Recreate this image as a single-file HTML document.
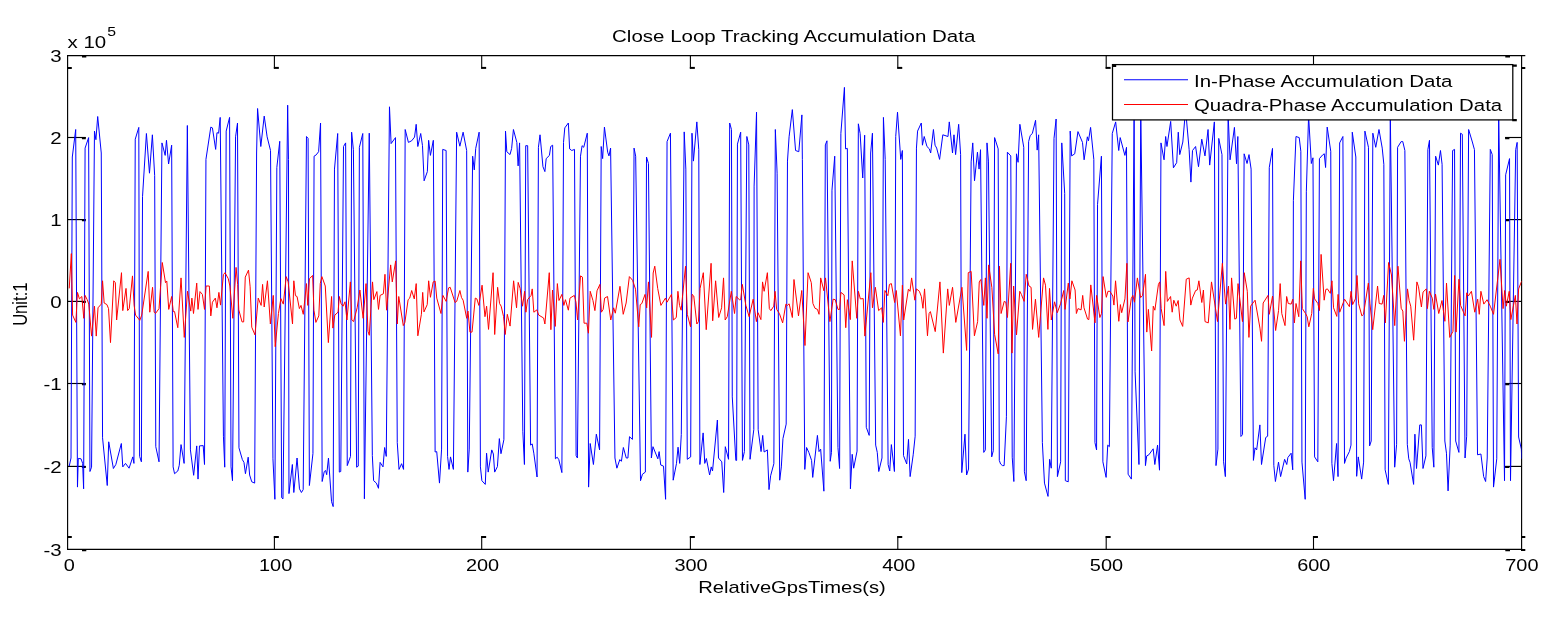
<!DOCTYPE html>
<html><head><meta charset="utf-8"><title>Close Loop Tracking Accumulation Data</title>
<style>
html,body{margin:0;padding:0;background:#fff;}
body{width:1564px;height:618px;overflow:hidden;}
svg{display:block}
text{font-family:"Liberation Sans",Arial,sans-serif;fill:#000;}
</style></head><body>
<svg width="1564" height="618" viewBox="0 0 1564 618">
<rect width="1564" height="618" fill="#fff"/>
<defs><clipPath id="c"><rect x="67.6" y="55.6" width="1454.0" height="493.79999999999995"/></clipPath></defs>

<g stroke="#000" stroke-width="1.3" fill="none">
<path d="M67.0,55.6 H1525.3"/>
<path d="M67.0,549.4 H1522.1999999999998"/>
<path d="M67.6,55.6 V549.4" stroke-width="1.15"/>
<path d="M1521.6,55.6 V549.4" stroke-width="1.15"/>
<path d="M274.40,55.6 V68.6" stroke-width="1.1"/>
<path d="M274.40,549.4 V536.2" stroke-width="1.1"/>
<path d="M481.70,55.6 V68.6" stroke-width="1.1"/>
<path d="M481.70,549.4 V536.2" stroke-width="1.1"/>
<path d="M690.40,55.6 V68.6" stroke-width="1.1"/>
<path d="M690.40,549.4 V536.2" stroke-width="1.1"/>
<path d="M897.80,55.6 V68.6" stroke-width="1.1"/>
<path d="M897.80,549.4 V536.2" stroke-width="1.1"/>
<path d="M1106.20,55.6 V68.6" stroke-width="1.1"/>
<path d="M1106.20,549.4 V536.2" stroke-width="1.1"/>
<path d="M1313.50,55.6 V68.6" stroke-width="1.1"/>
<path d="M1313.50,549.4 V536.2" stroke-width="1.1"/>
<path d="M67.6,137.50 h18" stroke-width="1.15"/>
<path d="M1521.6,137.50 h-16.5" stroke-width="1.15"/>
<path d="M67.6,219.60 h18" stroke-width="1.15"/>
<path d="M1521.6,219.60 h-16.5" stroke-width="1.15"/>
<path d="M67.6,301.40 h18" stroke-width="1.15"/>
<path d="M1521.6,301.40 h-16.5" stroke-width="1.15"/>
<path d="M67.6,383.50 h18" stroke-width="1.15"/>
<path d="M1521.6,383.50 h-16.5" stroke-width="1.15"/>
<path d="M67.6,466.40 h18" stroke-width="1.15"/>
<path d="M1521.6,466.40 h-16.5" stroke-width="1.15"/>
</g>
<g stroke="#000" stroke-width="2" fill="none">
<path d="M273.85,67.9 h5.0"/>
<path d="M273.85,537.0 h5.0"/>
<path d="M481.15,67.9 h5.0"/>
<path d="M481.15,537.0 h5.0"/>
<path d="M689.85,67.9 h5.0"/>
<path d="M689.85,537.0 h5.0"/>
<path d="M897.25,67.9 h5.0"/>
<path d="M897.25,537.0 h5.0"/>
<path d="M1105.65,67.9 h5.0"/>
<path d="M1105.65,537.0 h5.0"/>
<path d="M1312.95,67.9 h5.0"/>
<path d="M1312.95,537.0 h5.0"/>
<path d="M67.0,67.9 h4.8 M67.0,537.0 h4.8 M82,56.5 h4.3 M82,550.2 h4.3 M1505.3,56.5 h4.7 M1505.3,550.2 h4.7 M1521.6,67.9 h3.7 M1521.6,537.1 h3.7 M1521.0,550.0 h4.3"/>
<path d="M81.89999999999999,138.10 h3.9 M1505.1,138.10 h4.3" stroke-width="2.2"/>
<path d="M81.89999999999999,220.20 h3.9 M1505.1,220.20 h4.3" stroke-width="2.2"/>
<path d="M81.89999999999999,302.00 h3.9 M1505.1,302.00 h4.3" stroke-width="2.2"/>
<path d="M81.89999999999999,384.10 h3.9 M1505.1,384.10 h4.3" stroke-width="2.2"/>
<path d="M81.89999999999999,467.00 h3.9 M1505.1,467.00 h4.3" stroke-width="2.2"/>
</g>
<g clip-path="url(#c)"><g transform="scale(1.0,1)" fill="none" stroke-width="1" stroke-linejoin="miter" stroke-miterlimit="6">
<path d="M69.22,466.1 L71.00,458.0 L72.30,157.0 L75.70,129.5 L77.48,487.1 L78.28,458.4 L81.04,458.8 L82.65,463.4 L83.62,488.8 L85.08,148.1 L88.64,137.6 L89.94,471.5 L91.55,467.2 L94.47,131.1 L95.92,139.7 L97.70,116.5 L101.26,153.0 L102.56,437.8 L107.25,485.5 L108.71,441.8 L113.40,468.5 L115.83,464.5 L121.33,443.5 L122.78,466.9 L125.53,463.4 L129.09,468.2 L132.82,456.9 L133.95,463.4 L135.24,139.2 L138.80,127.4 L139.61,456.4 L141.39,461.8 L142.52,196.7 L146.41,133.5 L149.48,173.2 L152.39,134.8 L154.66,175.6 L155.79,446.7 L159.03,461.8 L161.94,142.9 L165.18,155.4 L166.47,140.3 L168.58,164.0 L171.65,145.2 L173.11,466.9 L174.56,473.7 L177.80,471.0 L179.26,465.3 L181.04,444.6 L184.11,463.4 L187.35,125.5 L190.42,449.9 L193.66,475.3 L196.73,445.9 L198.03,479.1 L199.48,445.9 L203.20,445.6 L204.50,464.5 L205.95,159.4 L210.81,127.1 L212.43,127.9 L215.66,149.4 L216.96,132.7 L218.58,133.2 L220.19,117.4 L223.43,436.2 L224.72,467.2 L226.18,131.1 L229.58,117.4 L231.04,466.9 L232.49,480.7 L235.57,136.8 L237.51,123.0 L238.96,447.8 L242.36,459.6 L243.98,462.4 L245.44,473.7 L248.19,457.2 L249.64,475.0 L251.75,481.8 L254.66,483.1 L256.60,153.0 L257.57,108.5 L260.81,146.5 L264.21,116.1 L267.12,136.8 L270.52,150.5 L272.94,458.8 L274.89,499.3 L276.83,167.5 L279.74,141.3 L281.68,497.7 L282.98,498.8 L287.67,105.2 L288.48,159.4 L288.96,493.6 L292.36,464.5 L293.82,492.5 L297.06,458.0 L299.48,488.8 L301.42,492.5 L303.20,489.6 L306.47,136.5 L308.09,138.4 L309.39,485.5 L312.94,453.5 L314.08,156.2 L316.18,154.9 L318.61,151.7 L320.55,123.0 L322.17,481.5 L324.27,471.5 L325.57,470.5 L326.70,474.7 L328.48,458.0 L331.55,501.7 L333.17,506.6 L334.47,169.1 L337.70,133.5 L339.32,472.1 L340.78,471.5 L343.53,146.5 L345.63,142.9 L347.25,465.6 L350.49,456.4 L351.62,132.2 L353.40,149.7 L356.63,467.2 L358.25,466.1 L359.39,147.3 L362.78,133.5 L364.40,498.8 L369.26,133.2 L372.33,455.6 L373.62,480.7 L376.38,483.1 L378.48,488.3 L380.10,462.4 L383.01,466.9 L384.63,447.5 L386.25,456.4 L389.48,106.8 L391.10,143.6 L395.47,137.6 L397.25,442.6 L399.03,469.4 L401.62,463.7 L403.56,469.4 L405.18,129.5 L408.41,142.4 L411.65,140.8 L414.56,137.1 L416.18,124.3 L417.80,146.5 L420.71,133.5 L422.49,145.7 L424.11,180.8 L427.35,171.6 L428.64,140.3 L430.42,155.4 L433.33,140.3 L435.11,452.0 L436.73,451.6 L439.48,483.1 L441.59,449.1 L442.72,149.4 L446.12,150.5 L447.57,456.4 L449.03,469.4 L450.49,456.9 L453.40,469.4 L456.63,132.2 L459.87,146.2 L463.11,132.2 L466.67,150.5 L467.80,472.1 L469.26,449.1 L472.65,156.2 L474.27,169.9 L475.73,148.4 L479.13,132.2 L480.42,466.9 L481.88,480.7 L485.28,484.4 L486.57,453.2 L488.19,472.1 L491.75,449.9 L493.37,454.0 L494.66,472.1 L497.41,466.6 L499.35,438.6 L500.97,453.7 L503.88,439.7 L505.50,131.1 L506.80,151.7 L510.03,154.6 L511.65,148.4 L513.43,129.5 L516.83,142.4 L518.12,165.9 L519.58,142.9 L522.82,431.3 L524.43,464.5 L525.73,145.7 L527.67,145.7 L530.58,445.1 L532.20,443.9 L533.82,453.2 L537.06,477.0 L538.41,147.3 L540.03,134.8 L542.94,166.7 L544.89,171.6 L546.18,158.6 L549.42,155.4 L550.71,146.5 L552.65,145.2 L555.40,458.8 L557.18,457.2 L558.80,459.6 L561.88,472.6 L563.50,142.4 L564.79,127.9 L568.35,123.0 L569.64,148.9 L571.75,150.5 L574.50,149.4 L576.12,455.6 L577.41,458.0 L580.49,156.2 L582.10,145.7 L583.72,147.3 L587.28,133.2 L588.58,487.1 L590.19,443.5 L593.43,464.5 L596.34,434.2 L599.58,449.9 L601.20,146.5 L602.65,158.6 L604.43,127.1 L607.67,152.2 L608.96,155.9 L610.58,148.1 L614.95,458.0 L616.89,468.2 L619.81,459.6 L621.42,461.3 L623.37,447.5 L626.28,458.0 L627.90,458.0 L629.51,436.7 L632.43,439.4 L634.05,148.1 L635.66,156.2 L640.52,480.7 L642.46,474.2 L645.37,472.1 L646.50,157.0 L648.45,163.5 L651.36,458.0 L652.98,446.7 L657.83,458.8 L659.13,451.6 L660.74,465.0 L663.50,466.1 L665.60,499.3 L667.06,141.6 L670.45,133.2 L673.20,480.2 L676.44,463.7 L678.06,447.2 L679.68,463.4 L681.29,434.6 L684.21,131.9 L685.83,169.1 L687.28,459.3 L690.68,456.9 L691.97,133.2 L693.43,161.1 L696.83,121.9 L698.77,149.7 L699.90,464.5 L703.14,432.9 L704.76,463.4 L706.38,458.5 L709.61,475.0 L711.23,466.9 L712.52,471.0 L717.38,420.0 L718.51,458.0 L721.75,461.8 L723.69,492.5 L725.31,446.7 L728.54,459.3 L729.68,123.0 L731.46,129.5 L732.27,396.9 L735.83,460.4 L736.63,460.4 L737.44,144.1 L740.68,132.2 L742.46,460.4 L744.40,451.6 L746.83,136.5 L748.77,144.9 L750.06,459.3 L753.79,429.7 L754.11,186.1 L756.54,112.2 L758.16,429.7 L761.07,451.6 L762.69,435.4 L764.14,452.0 L767.38,449.9 L769.00,489.6 L770.61,475.8 L773.85,463.7 L775.34,129.5 L777.12,173.2 L779.71,480.2 L781.33,466.9 L782.94,438.6 L786.18,424.1 L787.48,161.1 L789.09,136.8 L792.33,109.6 L795.57,150.5 L798.80,151.7 L801.88,114.9 L802.36,159.4 L804.79,469.4 L806.57,447.5 L808.83,452.4 L811.59,460.4 L812.72,477.4 L817.41,435.4 L819.03,451.6 L820.65,449.1 L823.88,491.2 L825.34,144.9 L826.96,140.8 L830.19,461.3 L831.49,452.4 L831.97,190.2 L834.72,156.2 L837.96,447.5 L839.58,468.5 L840.87,133.5 L844.43,87.4 L845.57,148.9 L847.35,148.4 L850.42,488.8 L852.20,454.3 L853.66,468.2 L857.06,451.1 L858.35,123.8 L860.13,133.5 L862.72,178.0 L864.66,135.2 L866.28,427.3 L869.19,435.4 L870.65,153.0 L872.43,133.2 L875.66,445.1 L877.28,452.4 L878.74,471.5 L881.97,458.0 L883.43,117.4 L885.21,159.4 L888.12,464.5 L889.74,471.0 L891.36,444.6 L894.43,471.5 L895.73,136.5 L897.51,112.2 L900.74,159.4 L902.36,150.5 L903.50,455.6 L906.73,464.0 L908.51,439.4 L910.13,476.6 L913.20,454.8 L915.15,436.2 L916.44,148.1 L917.57,131.1 L921.29,123.0 L922.43,145.2 L924.21,136.5 L926.96,146.5 L929.39,148.9 L930.68,153.0 L933.43,129.5 L935.05,145.2 L936.67,148.1 L939.58,159.4 L942.82,134.8 L947.99,136.5 L949.29,121.9 L952.52,153.0 L953.98,134.8 L955.60,154.6 L958.67,124.3 L960.61,154.6 L961.75,472.6 L964.98,434.2 L966.60,475.0 L968.54,469.0 L971.13,161.9 L972.75,142.9 L974.53,180.8 L977.44,152.2 L979.06,169.1 L980.52,149.7 L983.75,452.4 L985.37,449.9 L986.99,142.9 L988.45,161.1 L991.68,456.9 L993.30,450.7 L994.60,137.6 L998.16,148.9 L999.29,460.4 L1000.58,464.0 L1002.52,465.6 L1004.14,465.6 L1006.41,416.8 L1007.38,152.2 L1010.78,155.9 L1012.23,457.2 L1013.85,481.5 L1016.47,153.8 L1018.09,162.3 L1019.87,124.3 L1023.75,147.3 L1024.40,471.8 L1026.18,480.7 L1028.61,141.6 L1030.23,135.5 L1032.33,133.5 L1035.57,120.3 L1037.18,150.1 L1038.64,134.8 L1042.36,442.6 L1044.47,483.1 L1048.03,496.4 L1049.64,459.3 L1051.26,468.2 L1054.01,138.4 L1056.12,119.0 L1057.41,476.6 L1060.65,461.8 L1061.78,142.9 L1064.69,193.4 L1065.34,480.7 L1068.25,481.8 L1070.19,131.1 L1071.65,155.9 L1074.72,153.8 L1077.96,131.6 L1082.49,142.4 L1084.11,159.8 L1087.35,136.8 L1088.48,140.8 L1090.58,127.4 L1093.82,159.4 L1094.95,442.6 L1096.57,449.9 L1097.54,204.3 L1101.42,156.2 L1102.88,461.8 L1106.12,477.4 L1107.73,445.1 L1109.35,446.7 L1112.27,133.5 L1115.66,121.9 L1118.74,150.5 L1120.19,137.6 L1124.89,155.4 L1126.50,147.3 L1128.12,474.2 L1131.36,479.1 L1134.11,109.3 L1135.08,371.8 L1138.96,464.5 L1140.74,109.3 L1145.44,465.6 L1146.73,455.9 L1148.83,454.8 L1153.20,448.8 L1154.82,464.5 L1157.57,445.1 L1159.51,470.2 L1160.97,142.9 L1164.05,159.8 L1165.66,136.5 L1166.96,146.5 L1170.68,121.4 L1173.43,167.8 L1176.67,162.7 L1178.28,132.2 L1179.74,154.6 L1182.82,142.0 L1185.57,109.3 L1189.13,149.7 L1190.91,182.1 L1192.52,150.5 L1195.60,146.5 L1198.51,166.7 L1201.75,139.2 L1204.98,155.9 L1208.06,129.5 L1209.68,165.1 L1214.37,121.9 L1215.99,465.6 L1217.93,449.1 L1218.74,138.4 L1221.97,154.6 L1223.59,461.8 L1225.37,476.6 L1228.12,114.1 L1230.06,159.8 L1234.43,127.4 L1236.54,163.8 L1237.83,136.5 L1240.91,436.5 L1242.52,434.6 L1244.14,153.8 L1247.06,163.5 L1249.00,154.6 L1251.10,169.1 L1253.41,460.4 L1255.03,447.8 L1256.65,449.9 L1259.89,424.9 L1261.50,464.5 L1265.71,437.5 L1267.65,436.2 L1269.27,167.5 L1272.51,148.4 L1273.80,465.3 L1275.42,481.5 L1278.50,462.1 L1280.60,476.6 L1284.64,459.3 L1286.75,464.5 L1287.88,457.5 L1291.12,453.2 L1292.73,469.8 L1293.38,200.7 L1295.97,136.5 L1299.21,137.6 L1300.83,151.3 L1301.96,462.1 L1305.19,499.3 L1306.33,191.8 L1308.59,115.7 L1311.34,163.5 L1312.96,157.8 L1314.58,456.9 L1317.82,461.8 L1319.43,158.6 L1322.67,154.9 L1324.29,153.8 L1325.58,167.5 L1327.20,127.1 L1330.76,151.3 L1331.89,463.4 L1333.51,480.7 L1336.59,443.5 L1338.04,476.6 L1339.66,142.9 L1342.90,136.5 L1344.51,463.4 L1346.13,458.0 L1349.37,451.6 L1350.99,445.1 L1352.28,132.2 L1355.84,157.0 L1356.65,476.3 L1358.27,456.9 L1361.67,479.1 L1363.61,462.1 L1364.90,131.1 L1368.46,147.3 L1369.60,445.9 L1371.21,441.0 L1372.83,133.2 L1375.74,147.3 L1378.98,129.5 L1382.22,148.1 L1383.83,164.3 L1385.13,469.8 L1388.37,484.4 L1390.31,114.1 L1394.68,467.2 L1396.62,444.3 L1397.59,147.3 L1401.15,141.6 L1402.77,141.6 L1404.87,150.5 L1407.30,444.3 L1408.75,458.8 L1410.05,462.4 L1413.61,484.4 L1414.90,434.2 L1416.52,468.5 L1419.76,424.9 L1421.38,424.9 L1422.99,468.5 L1425.91,455.9 L1427.85,149.7 L1429.47,140.3 L1432.22,447.5 L1433.83,467.2 L1435.61,156.2 L1438.37,165.1 L1440.47,150.5 L1442.09,164.3 L1444.84,441.0 L1446.46,453.2 L1448.07,490.9 L1450.18,445.1 L1452.61,150.5 L1454.55,149.4 L1455.68,441.0 L1458.92,452.4 L1460.53,133.2 L1462.31,134.3 L1465.06,458.0 L1466.68,436.2 L1468.62,129.5 L1472.35,142.0 L1474.45,149.7 L1477.52,454.8 L1480.92,454.0 L1483.67,476.6 L1485.61,481.5 L1487.23,458.0 L1490.29,149.4 L1492.23,154.6 L1493.52,487.1 L1496.76,458.8 L1498.70,115.7 L1504.53,480.7 L1505.66,174.8 L1509.54,158.6 L1510.51,480.7 L1515.69,149.7 L1517.15,142.4 L1518.61,437.0 L1521.36,449.1 L1521.68,458.8" stroke="#0000ff"/>
<path d="M69.22,288.4 L71.33,253.6 L72.62,315.1 L75.86,322.4 L77.48,292.4 L79.42,298.9 L81.84,296.5 L83.79,318.3 L85.08,295.4 L87.18,299.7 L88.80,304.1 L91.55,336.1 L94.47,306.2 L96.25,336.1 L98.03,307.8 L101.26,304.1 L102.56,280.8 L104.17,303.0 L106.93,304.6 L108.54,308.6 L110.49,342.6 L113.72,280.8 L115.34,282.7 L116.63,320.0 L121.49,272.7 L122.78,310.6 L126.02,288.4 L127.64,310.6 L129.26,308.6 L132.49,275.9 L134.11,305.4 L135.57,315.1 L139.77,320.3 L141.72,315.1 L148.19,271.4 L149.81,312.2 L152.56,287.3 L154.17,312.2 L155.47,313.5 L159.03,308.6 L162.27,262.5 L165.50,282.7 L166.80,281.1 L168.74,309.4 L171.65,296.5 L173.27,311.6 L174.56,311.6 L177.80,327.7 L181.04,277.9 L184.27,337.4 L187.51,291.2 L190.74,311.1 L191.88,298.1 L193.50,313.5 L196.73,283.1 L198.03,309.4 L199.97,291.6 L202.39,294.4 L204.50,309.4 L206.12,286.0 L209.35,286.0 L210.81,315.9 L212.43,302.2 L215.34,298.1 L216.96,307.8 L218.90,292.4 L220.52,305.1 L223.43,274.6 L225.05,272.7 L228.28,278.7 L229.90,286.0 L232.82,318.3 L236.05,267.4 L237.67,284.4 L238.80,309.9 L242.04,321.9 L243.66,321.9 L245.28,277.1 L248.51,270.1 L250.13,286.8 L251.75,327.2 L254.98,334.9 L258.22,298.1 L261.13,305.4 L262.59,284.4 L264.21,307.0 L267.44,280.8 L270.36,324.0 L273.27,295.4 L275.21,346.7 L278.45,313.5 L280.87,298.6 L283.30,304.1 L286.21,276.6 L288.16,281.9 L292.52,324.0 L293.82,280.8 L295.44,295.7 L297.06,296.5 L299.39,308.6 L301.00,305.4 L303.27,314.3 L306.50,283.6 L307.80,305.4 L309.42,278.7 L312.65,275.5 L313.95,310.2 L315.89,322.4 L318.80,315.9 L320.26,283.6 L321.88,276.6 L325.28,286.0 L328.35,342.6 L331.59,296.5 L332.88,328.1 L334.82,315.1 L338.06,312.2 L339.35,296.5 L340.97,303.5 L343.07,306.2 L345.02,301.8 L346.96,320.0 L350.36,281.9 L351.81,320.0 L353.59,321.6 L357.15,307.8 L359.90,290.0 L363.14,318.3 L366.05,283.6 L367.99,331.3 L369.29,335.3 L372.52,281.9 L373.82,299.7 L376.89,291.6 L378.51,309.4 L380.13,295.4 L383.37,293.8 L384.98,274.3 L386.60,310.2 L390.65,264.9 L392.27,281.9 L395.66,260.9 L397.28,324.0 L398.74,296.5 L403.27,325.6 L404.89,322.4 L408.12,299.7 L409.74,298.1 L411.68,290.5 L414.27,298.9 L416.21,283.6 L417.83,335.8 L421.39,314.3 L422.69,292.4 L423.98,311.9 L427.22,304.6 L428.67,280.8 L430.45,297.3 L433.20,281.9 L435.15,281.1 L436.76,298.1 L440.97,313.5 L442.91,295.4 L446.15,301.4 L448.58,287.9 L450.19,287.3 L455.05,302.5 L456.67,301.4 L459.90,290.5 L461.52,297.6 L463.14,300.2 L466.70,318.3 L467.99,311.1 L469.94,332.1 L472.04,332.1 L475.28,298.1 L476.89,298.9 L478.83,305.4 L482.07,285.2 L484.98,316.7 L486.60,306.2 L488.54,329.4 L493.07,272.7 L494.69,334.5 L497.61,287.3 L499.55,303.5 L501.17,306.2 L503.59,316.7 L505.21,334.5 L507.31,314.3 L510.06,326.1 L513.62,280.8 L516.54,307.8 L518.16,282.4 L520.10,288.4 L522.52,306.2 L524.63,291.3 L525.92,312.2 L527.54,299.7 L531.10,295.4 L532.23,288.9 L533.85,312.2 L536.81,309.9 L538.75,315.1 L543.61,318.0 L544.90,324.0 L549.27,272.7 L550.89,329.7 L552.51,290.0 L555.26,326.4 L557.36,283.6 L558.98,300.5 L561.89,294.4 L563.83,305.4 L565.45,299.7 L568.37,310.2 L569.98,298.1 L574.35,295.4 L575.97,302.2 L577.59,320.0 L580.50,275.9 L582.44,277.1 L584.06,323.2 L586.81,323.2 L588.43,333.2 L590.21,291.3 L592.96,300.5 L594.90,310.6 L597.01,290.8 L599.92,284.4 L601.38,312.2 L603.16,309.4 L604.61,298.1 L607.52,296.5 L610.76,320.0 L613.67,307.8 L615.29,313.2 L619.98,286.3 L623.22,314.3 L626.13,303.0 L629.37,276.6 L632.61,280.3 L635.52,289.2 L638.75,326.8 L640.21,304.6 L641.83,303.5 L645.06,294.4 L646.68,307.8 L648.46,281.9 L651.54,337.4 L653.16,273.0 L654.77,266.2 L657.69,288.4 L660.92,305.4 L665.45,298.1 L667.07,302.2 L671.44,294.4 L673.38,320.0 L676.29,317.5 L677.91,291.3 L679.53,305.4 L681.15,310.2 L685.52,266.2 L687.30,314.3 L690.53,326.8 L692.15,294.4 L693.77,296.0 L696.84,324.0 L698.46,321.6 L700.08,288.4 L703.32,272.7 L706.23,329.7 L711.08,263.3 L712.70,320.8 L715.61,280.8 L718.69,317.5 L721.60,307.8 L723.54,277.9 L725.16,320.0 L727.27,316.7 L731.31,291.3 L734.55,313.5 L736.17,296.5 L739.40,299.7 L740.70,299.7 L742.31,284.4 L745.87,305.4 L749.11,316.7 L753.16,299.2 L756.39,321.6 L758.01,312.7 L760.92,319.6 L762.54,281.9 L764.16,291.3 L767.39,272.7 L769.34,308.6 L770.84,310.6 L773.75,306.2 L775.05,291.3 L776.67,309.4 L779.42,313.5 L782.65,322.9 L785.89,304.1 L787.51,305.4 L789.13,303.8 L792.36,317.5 L793.98,279.5 L798.51,315.9 L801.75,290.5 L804.98,345.5 L808.06,272.7 L811.29,282.7 L812.91,303.5 L815.02,308.3 L817.44,309.4 L819.06,314.3 L820.68,277.9 L823.92,290.8 L825.53,277.9 L829.90,321.6 L833.14,299.2 L835.24,299.7 L837.99,309.4 L839.61,309.4 L840.91,292.4 L844.14,294.9 L845.76,327.7 L847.38,299.7 L850.29,319.6 L852.23,260.9 L856.76,318.3 L858.38,291.3 L860.32,298.9 L863.24,298.6 L864.85,336.1 L870.84,272.7 L872.46,307.8 L875.37,287.3 L878.61,310.6 L881.68,307.8 L883.30,322.4 L884.92,290.5 L887.83,295.7 L889.45,284.4 L891.39,283.6 L894.63,302.5 L896.25,290.5 L900.45,335.8 L902.39,285.2 L903.69,320.0 L908.38,289.2 L910.00,291.3 L911.62,277.9 L914.85,300.2 L916.47,288.9 L919.39,291.3 L921.33,296.5 L922.94,308.3 L924.56,288.9 L927.48,335.8 L929.09,313.5 L930.39,311.6 L935.24,331.6 L939.94,281.9 L943.33,353.1 L947.70,288.9 L949.32,305.4 L952.56,287.3 L955.79,322.4 L961.94,287.3 L966.63,350.4 L968.25,272.7 L971.17,271.4 L974.40,335.8 L977.64,321.6 L979.26,281.9 L980.87,279.5 L983.79,305.4 L985.40,277.9 L987.02,318.3 L988.64,264.9 L991.88,287.6 L994.63,334.5 L998.19,353.9 L999.48,266.2 L1001.10,313.5 L1004.22,301.4 L1005.84,302.2 L1007.46,317.5 L1010.70,263.3 L1011.99,353.1 L1013.61,286.0 L1016.52,334.9 L1019.76,291.3 L1021.38,294.4 L1024.13,301.4 L1026.23,274.3 L1028.98,286.0 L1031.08,287.3 L1032.54,329.4 L1035.45,299.2 L1038.69,337.4 L1043.54,277.9 L1045.49,285.2 L1047.91,329.4 L1049.53,288.4 L1051.31,320.0 L1054.55,301.8 L1057.30,312.7 L1060.53,303.8 L1063.77,290.5 L1065.06,309.4 L1068.30,283.1 L1069.92,298.9 L1071.86,280.8 L1075.10,290.0 L1076.39,313.5 L1078.01,308.6 L1081.08,309.9 L1082.70,295.4 L1084.00,307.8 L1087.56,319.1 L1088.85,319.6 L1090.79,284.9 L1095.00,322.9 L1096.62,295.4 L1099.85,317.5 L1101.47,313.5 L1103.09,276.6 L1106.33,297.3 L1107.94,291.3 L1109.89,291.3 L1112.80,296.0 L1113.93,305.1 L1115.55,280.8 L1118.79,321.3 L1120.40,304.6 L1121.70,312.7 L1124.94,298.9 L1126.88,263.3 L1128.01,321.9 L1131.25,298.6 L1132.86,295.4 L1134.48,302.2 L1137.39,277.9 L1140.63,297.6 L1142.57,295.4 L1145.49,274.3 L1146.78,332.1 L1148.40,309.4 L1151.63,351.0 L1153.25,306.2 L1154.87,310.2 L1158.43,284.4 L1159.72,281.9 L1161.18,308.6 L1164.09,325.6 L1165.71,271.4 L1167.33,301.4 L1170.57,296.5 L1172.18,312.2 L1173.80,300.2 L1176.23,306.2 L1178.17,300.5 L1179.95,320.0 L1182.70,326.4 L1186.26,279.2 L1189.17,277.9 L1190.79,305.1 L1192.41,298.1 L1195.65,290.5 L1197.27,290.0 L1198.88,280.8 L1201.80,302.5 L1203.41,290.0 L1205.03,321.6 L1208.27,322.9 L1211.50,281.9 L1217.49,321.6 L1222.35,263.3 L1225.58,304.1 L1228.50,286.0 L1229.95,329.4 L1231.57,277.9 L1234.81,319.1 L1236.42,318.3 L1238.04,283.6 L1242.46,321.6 L1244.24,272.7 L1247.31,291.3 L1248.93,337.4 L1250.55,306.2 L1255.08,300.2 L1259.94,328.1 L1261.55,341.3 L1263.17,303.0 L1268.03,295.4 L1269.32,314.3 L1272.56,296.0 L1275.63,330.5 L1278.54,310.6 L1280.16,283.6 L1281.78,313.5 L1285.02,325.6 L1286.63,296.5 L1288.25,303.5 L1291.17,304.1 L1292.78,299.2 L1294.40,322.9 L1296.02,303.5 L1298.77,316.7 L1300.71,260.9 L1302.33,308.6 L1305.57,313.5 L1307.18,316.7 L1308.80,326.8 L1311.72,313.5 L1313.33,288.4 L1314.63,298.9 L1317.86,303.5 L1319.48,310.6 L1321.10,254.4 L1324.17,300.2 L1325.79,289.5 L1327.41,288.9 L1330.32,293.3 L1331.94,280.8 L1333.56,307.8 L1336.80,316.4 L1338.09,294.4 L1339.71,312.2 L1344.56,299.2 L1349.42,306.7 L1351.04,291.3 L1352.65,304.6 L1355.40,298.9 L1357.02,275.5 L1358.64,303.8 L1361.88,315.9 L1363.50,314.3 L1368.35,283.1 L1369.97,303.8 L1372.72,329.7 L1377.57,286.0 L1379.19,303.5 L1382.10,304.1 L1383.72,295.4 L1385.34,322.9 L1388.58,262.5 L1391.49,275.0 L1394.72,325.6 L1397.96,266.2 L1401.20,308.3 L1402.82,311.1 L1404.43,341.3 L1407.51,288.9 L1409.13,300.5 L1410.74,306.2 L1413.66,340.2 L1416.89,281.9 L1418.51,286.8 L1421.42,307.0 L1423.04,292.1 L1426.28,288.9 L1427.41,308.6 L1429.35,291.3 L1432.27,298.1 L1433.88,309.4 L1435.50,294.1 L1438.74,313.5 L1441.97,300.5 L1444.89,321.3 L1446.50,283.1 L1449.74,337.4 L1452.98,331.3 L1454.60,275.5 L1456.05,332.1 L1458.96,279.2 L1460.58,305.4 L1465.11,315.9 L1466.73,292.8 L1468.35,296.0 L1471.42,291.3 L1474.75,312.2 L1477.67,299.2 L1479.28,314.3 L1480.90,291.3 L1483.82,304.1 L1487.05,299.7 L1490.29,306.2 L1493.52,314.3 L1500.00,259.3 L1503.07,308.6 L1504.69,290.5 L1506.31,306.2 L1509.22,291.3 L1510.84,319.6 L1515.37,295.4 L1516.99,324.0 L1518.61,288.9 L1521.68,281.1" stroke="#ff0000"/>
</g></g>
<text transform="translate(69.30,570.50) scale(1.2,1)" font-size="16.6" text-anchor="middle">0</text>
<text transform="translate(275.61,570.50) scale(1.2,1)" font-size="16.6" text-anchor="middle">100</text>
<text transform="translate(482.53,570.50) scale(1.2,1)" font-size="16.6" text-anchor="middle">200</text>
<text transform="translate(691.04,570.50) scale(1.2,1)" font-size="16.6" text-anchor="middle">300</text>
<text transform="translate(898.76,570.50) scale(1.2,1)" font-size="16.6" text-anchor="middle">400</text>
<text transform="translate(1106.47,570.50) scale(1.2,1)" font-size="16.6" text-anchor="middle">500</text>
<text transform="translate(1313.79,570.50) scale(1.2,1)" font-size="16.6" text-anchor="middle">600</text>
<text transform="translate(1521.90,570.50) scale(1.2,1)" font-size="16.6" text-anchor="middle">700</text>
<text transform="translate(61.60,62.10) scale(1.235,1)" font-size="16.6" text-anchor="end">3</text>
<text transform="translate(61.60,143.60) scale(1.235,1)" font-size="16.6" text-anchor="end">2</text>
<text transform="translate(61.60,225.90) scale(1.235,1)" font-size="16.6" text-anchor="end">1</text>
<text transform="translate(61.60,307.80) scale(1.235,1)" font-size="16.6" text-anchor="end">0</text>
<text transform="translate(61.60,389.80) scale(1.235,1)" font-size="16.6" text-anchor="end">-1</text>
<text transform="translate(61.60,472.90) scale(1.235,1)" font-size="16.6" text-anchor="end">-2</text>
<text transform="translate(61.60,556.00) scale(1.235,1)" font-size="16.6" text-anchor="end">-3</text>
<text transform="translate(67.50,47.80) scale(1.235,1)" font-size="16.6" text-anchor="start">x 10</text>
<text transform="translate(107.20,35.80) scale(1.235,1)" font-size="12.8" text-anchor="start">5</text>
<text transform="translate(793.70,42.20) scale(1.235,1)" font-size="16.6" text-anchor="middle">Close Loop Tracking Accumulation Data</text>
<text transform="translate(792.00,592.70) scale(1.215,1)" font-size="16.6" text-anchor="middle">RelativeGpsTimes(s)</text>
<text transform="translate(26.9,304.2) scale(1.235,1) rotate(-90)" font-size="16.6" text-anchor="middle">Unit:1</text>
<rect x="1112.5" y="64.6" width="400.3" height="55.3" fill="#fff" stroke="#000" stroke-width="1.25"/>
<path d="M1124,79.8 H1188" stroke="#0000ff" stroke-width="1.1"/>
<path d="M1124,104.5 H1188" stroke="#ff0000" stroke-width="1.1"/>
<text transform="translate(1194.00,86.50) scale(1.235,1)" font-size="16.6" text-anchor="start">In-Phase Accumulation Data</text>
<text transform="translate(1194.00,111.40) scale(1.229,1)" font-size="16.6" text-anchor="start">Quadra-Phase Accumulation Data</text>
<path d="M1512.2,65.6 h4.6 M1512.2,120.2 h4.6 M1112.6,65.8 h3.6" stroke="#000" stroke-width="2.2"/>
</svg></body></html>
